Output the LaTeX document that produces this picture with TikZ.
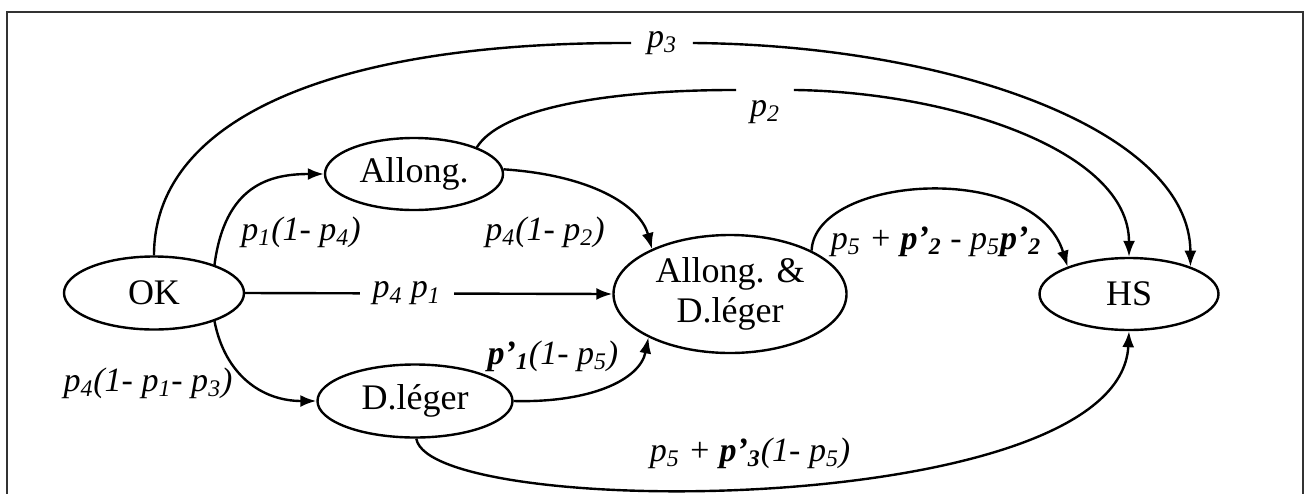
\documentclass[tikz,border=0pt]{standalone}
\usepackage{fontspec}
\setmainfont{Liberation Serif}
\usetikzlibrary{shapes.geometric,arrows.meta}
\newcommand\sbx[1]{\textsubscript{#1}}
\newcommand\bpp[1]{\textbf{p’\textsubscript{#1}}}
\begin{document}
\begin{tikzpicture}[x=0.5pt,y=-0.5pt,
  every node/.style={font=\fontsize{18pt}{20pt}\selectfont},
  state/.style={ellipse,draw,line width=1.2pt,inner sep=0pt},
  lbl/.style={font=\fontsize{17pt}{20pt}\selectfont\itshape,inner sep=0pt},
  arr/.style={line width=1.2pt,-{Latex[length=8pt,width=6pt]}},
  frm/.style={line width=1.2pt,black!80}]
\useasboundingbox (0,0) rectangle (1310,493);
\draw[frm] (7,500) -- (7,12) -- (1303,12) -- (1303,500);

\node[state,minimum width=90pt,minimum height=36.5pt] (ok) at (154,293) {OK};
\node[state,minimum width=89pt,minimum height=36pt] (al) at (414,174) {Allong.};
\node[state,minimum width=116.5pt,minimum height=59pt,align=center] (ad) at (730,294) {Allong. \&\\D.léger};
\node[state,minimum width=89.5pt,minimum height=36pt] (hs) at (1129,294) {HS};
\node[state,minimum width=97.5pt,minimum height=36.5pt] (dl) at (415,401) {D.léger};

\node[lbl,minimum width=30.5pt] (l3) at (662,43) {p\sbx{3}};
\node[lbl,minimum width=28.5pt,inner ysep=5pt] (l2) at (765,112) {p\sbx{2}};

\draw[arr] (ok.90) .. controls (154,120) and (330,42) .. (l3.west) (l3.east) .. controls (950,45) and (1190,130) .. (hs.24);
\draw[arr] (al.23) .. controls (500,110) and (600,90) .. (l2.north west) (l2.north east) .. controls (950,92) and (1129,150) .. (hs.90);
\draw[arr] (ok.25) .. controls (225,185) and (270,174) .. (al.west);
\draw[arr] (al.3) .. controls (590,175) and (640,205) .. (ad.150);
\draw[arr] (ok.east) -- node[lbl,pos=.44,fill=white,inner xsep=6.5pt] (l41) {p\sbx{4} p\sbx{1}} (ad.west);
\draw[arr] (ok.-25) .. controls (225,375) and (262,401) .. (dl.west);
\draw[arr] (dl.east) .. controls (590,403) and (640,380) .. (ad.208);
\draw[arr] (dl.-88) .. controls (430,520) and (1120,520) .. (hs.south);
\draw[arr] (ad.28) .. controls (815,175) and (1035,160) .. (hs.156);

\node[lbl] (l14) at (301,232) {p\sbx{1}(1- p\sbx{4})};
\node[lbl] (l42) at (545,232) {p\sbx{4}(1- p\sbx{2})};
\node[lbl] (l413) at (148,383) {p\sbx{4}(1- p\sbx{1}- p\sbx{3})};
\node[lbl] (l15) at (553,356) {\bpp{1}(1- p\sbx{5})};
\node[lbl] (l52) at (936,242) {p\sbx{5} + \bpp{2} - p\sbx{5}\bpp{2}};
\node[lbl] (l53) at (750,453) {p\sbx{5} + \bpp{3}(1- p\sbx{5})};
\end{tikzpicture}
\end{document}
